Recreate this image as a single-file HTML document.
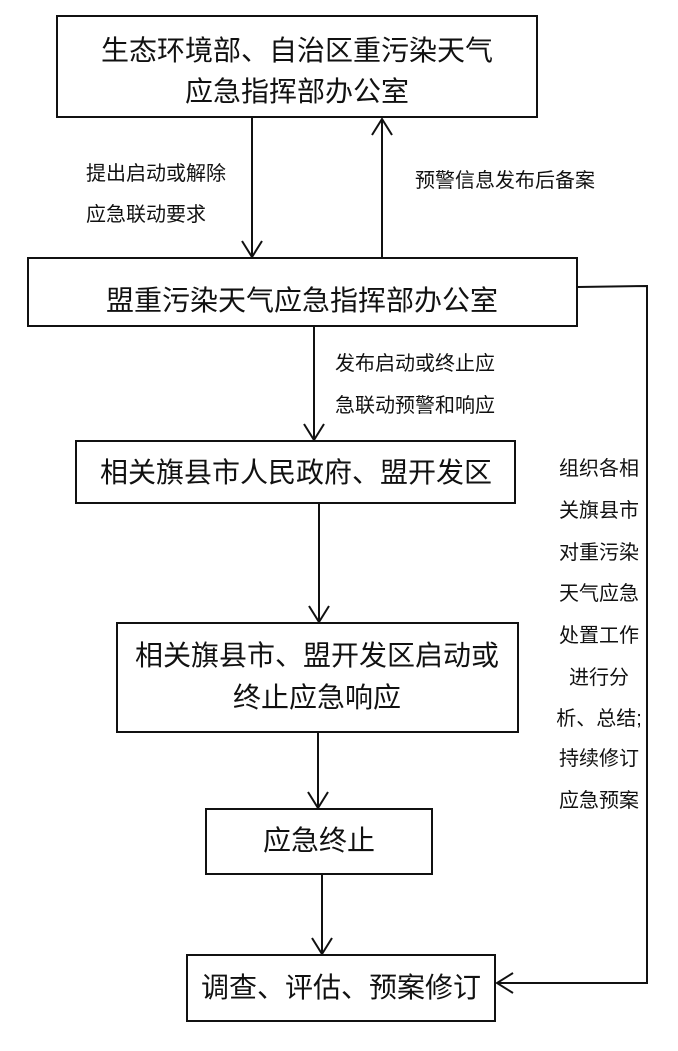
<!DOCTYPE html>
<html><head><meta charset="utf-8"><style>
body{margin:0;background:#fff;width:678px;height:1046px;overflow:hidden}
svg text{font-family:"Liberation Sans","Noto Sans CJK SC",sans-serif;fill:#111}
.b{font-size:28px}.s{font-size:20px}
</style></head><body>
<svg width="678" height="1046" viewBox="0 0 678 1046" xmlns="http://www.w3.org/2000/svg">
<g fill="none" stroke="#111" stroke-width="2">
<rect x="57" y="16" width="480" height="101"/>
<rect x="28" y="258" width="549" height="68"/>
<rect x="76" y="441" width="439" height="62"/>
<rect x="117" y="623" width="401" height="109"/>
<rect x="206" y="809" width="226" height="65"/>
<rect x="187" y="955" width="308" height="66"/>
<line x1="252" y1="117" x2="252" y2="257"/><polyline points="242,241 252,257 262,241"/>
<line x1="382" y1="258" x2="382" y2="119"/><polyline points="372,135 382,119 392,135"/>
<line x1="314" y1="326" x2="314" y2="440"/><polyline points="304,424 314,440 324,424"/>
<line x1="319" y1="503" x2="319" y2="622"/><polyline points="309,606 319,622 329,606"/>
<line x1="318" y1="732" x2="318" y2="808"/><polyline points="308,792 318,808 328,792"/>
<line x1="322" y1="874" x2="322" y2="954"/><polyline points="312,938 322,954 332,938"/>
<polyline points="578,287 647,286 647,983 497,983"/><polyline points="513,973 497,983 513,993"/>
</g>
<g class="b" text-anchor="middle">
<text x="297" y="60">生态环境部、自治区重污染天气</text>
<text x="297" y="101">应急指挥部办公室</text>
<text x="302" y="310">盟重污染天气应急指挥部办公室</text>
<text x="296" y="482">相关旗县市人民政府、盟开发区</text>
<text x="317" y="665">相关旗县市、盟开发区启动或</text>
<text x="317" y="707">终止应急响应</text>
<text x="319" y="850">应急终止</text>
<text x="341" y="997">调查、评估、预案修订</text>
</g>
<g class="s">
<text x="86" y="180">提出启动或解除</text>
<text x="86" y="221">应急联动要求</text>
<text x="415" y="187">预警信息发布后备案</text>
<text x="335" y="370">发布启动或终止应</text>
<text x="335" y="412">急联动预警和响应</text>
</g>
<g class="s" text-anchor="middle">
<text x="599" y="475">组织各相</text>
<text x="599" y="517">关旗县市</text>
<text x="599" y="559">对重污染</text>
<text x="599" y="600">天气应急</text>
<text x="599" y="642">处置工作</text>
<text x="599" y="684">进行分</text>
<text x="599" y="725">析、总结;</text>
<text x="599" y="765">持续修订</text>
<text x="599" y="807">应急预案</text>
</g>
</svg>
</body></html>
